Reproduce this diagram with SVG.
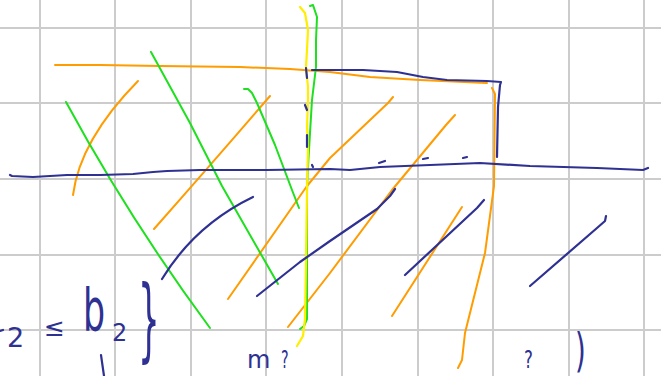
<svg xmlns="http://www.w3.org/2000/svg" width="661" height="376" viewBox="0 0 661 376">
<style>
.grid{stroke:#cccccc;stroke-width:2;fill:none}
.s{fill:none;stroke-linecap:round;stroke-linejoin:round}
.o{stroke:#ff9c00;stroke-width:2}
.g{stroke:#1ee01e;stroke-width:2}
.y{stroke:#ffee00;stroke-width:2.2}
.n{stroke:#2e3192;stroke-width:2.2}
.t{font-family:"DejaVu Sans",sans-serif;fill:#2e3192}
</style>
<rect width="661" height="376" fill="#ffffff"/>
<g id="grid" class="grid">
<path d="M40,0V376M115,0V376M191,0V376M266,0V376M342,0V376M418,0V376M493,0V376M569,0V376M644,0V376"/>
<path d="M0,28H661M0,103H661M0,179H661M0,255H661M0,330H661"/>
</g>
<g id="orange" class="s o">
<path d="M55,65 L100,65 L160,66 L240,67 L290,69 L330,72 L370,77 L420,80 L487,83"/>
<path d="M138,81 Q80,140 73,195"/>
<path d="M270,96 Q215,160 154,229"/>
<path d="M393,97 L388,103 L330,158 L307,186 L228,299"/>
<path d="M455,115 L446,125 L392,190 L330,273 L288,327"/>
<path d="M462,207 L392,316"/>
<path d="M492,88 L495,94 L494,186 L485,253 L465,333 L462,360 L458,368"/>
</g>
<g id="green" class="s g">
<path d="M66,102 Q130,220 210,328"/>
<path d="M151,52 L190,123 L222,186 L278,284"/>
<path d="M244,89 L248,89 L252,93 L257,103 L275,145 L292,190 L299,208"/>
<path d="M310,6 L313,5 L317,17 L316,40 L316,67 L312,100 L310,133 L308,167 L307,190 L307,260 L307,319 L304,326 L300,329"/>
</g>
<g id="yellow" class="s y">
<path d="M300,7 L305,13 L308,30 L307,50 L306,67 L308,87 L308,100 L307,127 L308,147 L307,190 L306,260 L305,319 L303,336 L297,346"/>
</g>
<g id="navy" class="s n">
<path d="M312,70 L330,70 L363,70 L397,72 L423,77 L447,80 L487,81 L501,82 L500,85 L498,107 L497,157"/>
<path d="M10,175 L12,176 L33,177 L67,175 L100,175 L133,174 L153,172 L167,171 L200,170 L267,170 L330,169 L350,170 L380,167 L430,165 L480,163 L530,166 L597,168 L643,170 L648,168"/>
<path d="M379,163 L385,161"/>
<path d="M423,159 L428,158"/>
<path d="M463,158 L467,157"/>
<path d="M312,165 L313,167"/>
<path d="M305,105 L307,110"/>
<path d="M307,135 L307,147"/>
<path d="M306,68 L307,78"/>
<path d="M253,197 Q195,225 162,279"/>
<path d="M395,189 L390,196 L377,209 L330,241 L300,262 L257,296"/>
<path d="M484,200 L477,208 L405,275"/>
<path d="M606,216 L605,221 L597,228 L530,286"/>
<path d="M101,355 L104,376"/>
<path d="M0,331 L3,330"/>
</g>
<g id="writing" class="t">
<text x="7" y="347" font-size="27">2</text>
<text x="44" y="336" font-size="25">≤</text>
<text transform="translate(83,331) scale(0.6,1)" font-size="58">b</text>
<text x="112" y="341" font-size="24">2</text>
<text transform="translate(138,350) scale(0.38,1)" font-size="90">}</text>
<text x="247" y="368" font-size="24">m</text>
<text transform="translate(281,368) scale(0.6,1)" font-size="24">?</text>
<text transform="translate(524,368) scale(0.7,1)" font-size="24">?</text>
<text transform="translate(575,366) scale(0.6,1)" font-size="46">)</text>
</g>
</svg>
